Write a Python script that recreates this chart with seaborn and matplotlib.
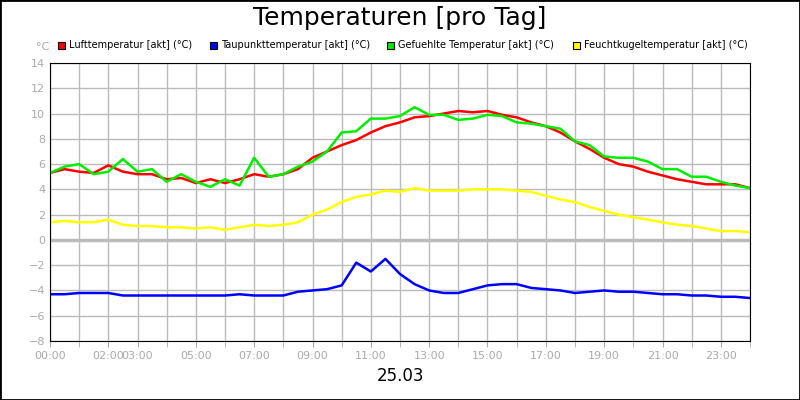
import matplotlib
matplotlib.use("Agg")
import matplotlib.pyplot as plt
import seaborn as sns
import pandas as pd
import numpy as np

hours = [i * 0.5 for i in range(49)]
luft = [5.3,5.6,5.4,5.3,5.9,5.4,5.2,5.2,4.8,4.9,4.5,4.8,4.5,4.8,5.2,5.0,5.2,5.6,6.5,7.0,7.5,7.9,8.5,9.0,9.3,9.7,9.8,10.0,10.2,10.1,10.2,9.9,9.7,9.3,9.0,8.5,7.8,7.2,6.5,6.0,5.8,5.4,5.1,4.8,4.6,4.4,4.4,4.4,4.1]
gefuehlt = [5.3,5.8,6.0,5.2,5.4,6.4,5.4,5.6,4.6,5.2,4.6,4.2,4.8,4.3,6.5,5.0,5.2,5.8,6.2,7.0,8.5,8.6,9.6,9.6,9.8,10.5,9.9,9.9,9.5,9.6,9.9,9.8,9.3,9.2,9.0,8.8,7.8,7.5,6.6,6.5,6.5,6.2,5.6,5.6,5.0,5.0,4.6,4.3,4.1]
feucht = [1.4,1.5,1.4,1.4,1.6,1.2,1.1,1.1,1.0,1.0,0.9,1.0,0.8,1.0,1.2,1.1,1.2,1.4,2.0,2.4,3.0,3.4,3.6,3.9,3.8,4.1,3.9,3.9,3.9,4.0,4.0,4.0,3.9,3.8,3.5,3.2,3.0,2.6,2.3,2.0,1.8,1.6,1.4,1.2,1.1,0.9,0.7,0.7,0.6]
taupunkt = [-4.3,-4.3,-4.2,-4.2,-4.2,-4.4,-4.4,-4.4,-4.4,-4.4,-4.4,-4.4,-4.4,-4.3,-4.4,-4.4,-4.4,-4.1,-4.0,-3.9,-3.6,-1.8,-2.5,-1.5,-2.7,-3.5,-4.0,-4.2,-4.2,-3.9,-3.6,-3.5,-3.5,-3.8,-3.9,-4.0,-4.2,-4.1,-4.0,-4.1,-4.1,-4.2,-4.3,-4.3,-4.4,-4.4,-4.5,-4.5,-4.6]
names = ["Lufttemperatur [akt] (°C)", "Taupunkttemperatur [akt] (°C)",
         "Gefuehlte Temperatur [akt] (°C)", "Feuchtkugeltemperatur [akt] (°C)"]
colors = ["#ff0000", "#0000ff", "#00ee00", "#ffff00"]
tick_hours = [0, 2, 3, 5, 7, 9, 11, 13, 15, 17, 19, 21, 23]
tick_labels = [f"{h:02d}:00" for h in tick_hours]

df = pd.DataFrame({"h": hours, names[0]: luft, names[1]: taupunkt,
                   names[2]: gefuehlt, names[3]: feucht})
long = df.melt("h", var_name="s", value_name="v")

fig = plt.figure(figsize=(8, 4), dpi=100)
fig.patches.append(plt.Rectangle((0, 0), 1, 1, transform=fig.transFigure,
                                 fill=False, ec="black", lw=2))
ax = fig.add_axes([0.0625, 0.1475, 0.875, 0.695])
for y in range(-8, 15, 2):
    ax.axhline(y, color="#bbbbbb", lw=2.5 if y == 0 else 1, zorder=0)
for x in range(0, 25):
    ax.axvline(x, color="#bbbbbb", lw=1, zorder=0)
sns.lineplot(data=long, x="h", y="v", hue="s", hue_order=names, palette=colors,
             lw=1.8, ax=ax, legend=False)
ax.set_xlim(0, 24)
ax.set_ylim(-8, 14)
ax.set_yticks(range(-8, 15, 2))
ax.set_xticks(tick_hours)
ax.set_xticks(range(25), minor=True)
ax.set_xticklabels(tick_labels)
ax.tick_params(colors="#aaaaaa", labelsize=8, length=4, which="both")
ax.tick_params(axis="y", length=0)
for sp in ax.spines.values():
    sp.set_color("black")
ax.set_xlabel("25.03", fontsize=12, color="black")
ax.set_ylabel("")
fig.text(0.5, 0.955, "Temperaturen [pro Tag]", ha="center", va="center", fontsize=18)
fig.text(0.045, 0.882, "°C", fontsize=8, color="#aaaaaa", ha="left", va="center")
xs = [0.0725, 0.2625, 0.484, 0.716]
for x, n, c in zip(xs, names, colors):
    fig.patches.append(plt.Rectangle((x, 0.878), 0.009, 0.018, transform=fig.transFigure,
                                     fc=c, ec="black", lw=0.8))
    fig.text(x + 0.014, 0.887, n, fontsize=7, va="center", ha="left")
fig.savefig("out.png", dpi=100)
